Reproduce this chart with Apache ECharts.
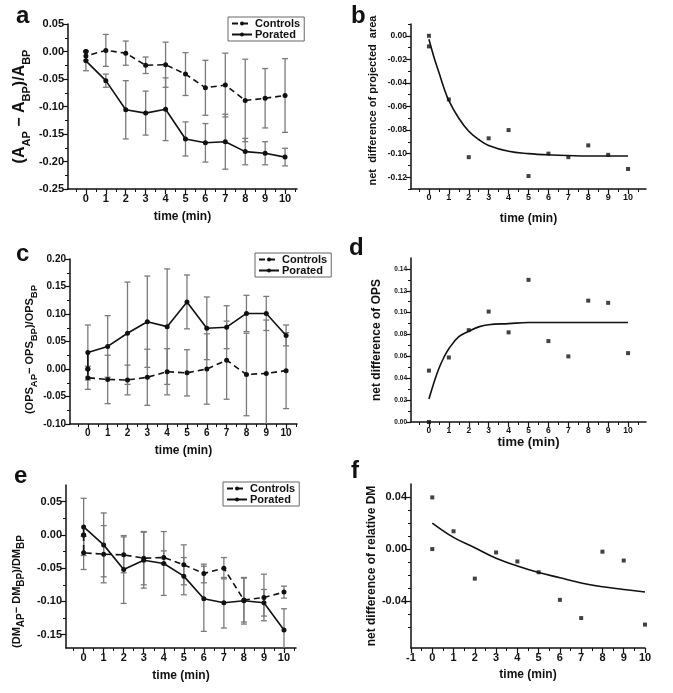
<!DOCTYPE html>
<html>
<head>
<meta charset="utf-8">
<script src="https://cdn.jsdelivr.net/npm/echarts@6/dist/echarts.min.js"></script>
<style>
  html, body { margin: 0; padding: 0; background: #fff; }
  #main { width: 673px; height: 693px; }
</style>
</head>
<body>
<div id="main"></div>
<script>
// time points: 0 appears twice (normalised start + first reading)
var times = [0, 0, 1, 2, 3, 4, 5, 6, 7, 8, 9, 10];

// panel a
var ctrlA    = [0, -0.008, 0.002, -0.003, -0.025, -0.024, -0.041, -0.066, -0.061, -0.089, -0.085, -0.080];
var ctrlAErr = [0, 0.008, 0.029, 0.022, 0.015, 0.041, 0.039, 0.050, 0.058, 0.075, 0.054, 0.067];
var porA     = [0, -0.017, -0.053, -0.106, -0.112, -0.105, -0.159, -0.166, -0.164, -0.182, -0.185, -0.192];
var porAErr  = [0, 0.018, 0.012, 0.053, 0.040, 0.057, 0.031, 0.035, 0.050, 0.024, 0.021, 0.016];

// panel b
var netArea = [0, -0.009, -0.054, -0.103, -0.087, -0.080, -0.119, -0.100, -0.103, -0.093, -0.101, -0.113];
var fitTimesB = [0, 0.25, 0.5, 0.75, 1, 1.5, 2, 2.5, 3, 4, 5, 6, 8, 10];
var fitB = [-0.003, -0.018, -0.031, -0.044, -0.055, -0.070, -0.081, -0.088, -0.093, -0.098, -0.100, -0.101, -0.102, -0.102];

// panel c
var ctrlC    = [0, -0.016, -0.019, -0.020, -0.015, -0.005, -0.007, 0.000, 0.016, -0.010, -0.008, -0.003];
var ctrlCErr = [0, 0.021, 0.044, 0.027, 0.051, 0.042, 0.042, 0.064, 0.071, 0.075, 0.097, 0.069];
var porC     = [0, 0.030, 0.041, 0.065, 0.086, 0.077, 0.122, 0.074, 0.076, 0.101, 0.101, 0.061];
var porCErr  = [0, 0.050, 0.056, 0.093, 0.083, 0.105, 0.049, 0.057, 0.039, 0.033, 0.031, 0.019];

// panel d
var netOps = [0, 0.047, 0.059, 0.084, 0.101, 0.082, 0.130, 0.074, 0.060, 0.111, 0.109, 0.063];
var fitTimesD = [0, 0.25, 0.5, 0.75, 1, 1.5, 2, 2.5, 3, 4, 5, 7, 10];
var fitD = [0.021, 0.036, 0.049, 0.059, 0.067, 0.078, 0.083, 0.087, 0.089, 0.090, 0.091, 0.091, 0.091];

// panel e
var ctrlE    = [0, -0.027, -0.029, -0.030, -0.035, -0.034, -0.045, -0.058, -0.050, -0.098, -0.094, -0.086];
var ctrlEErr = [0, 0.025, 0.043, 0.027, 0.040, 0.010, 0.030, 0.014, 0.016, 0.033, 0.035, 0.009];
var porE     = [0, 0.012, -0.015, -0.052, -0.038, -0.043, -0.062, -0.096, -0.102, -0.099, -0.102, -0.143];
var porEErr  = [0, 0.043, 0.048, 0.051, 0.042, 0.048, 0.028, 0.049, 0.038, 0.035, 0.020, 0.032];

// panel f
var netDm = [0, 0.0397, 0.0137, -0.0227, -0.0026, -0.0095, -0.0178, -0.039, -0.053, -0.002, -0.0088, -0.058];
var fitTimesF = [0, 1, 2, 3, 4, 5, 6, 7, 8, 9, 10];
var fitF = [0.020, 0.009, 0.001, -0.007, -0.013, -0.018, -0.022, -0.026, -0.029, -0.031, -0.033];

// tick labels
var timeTicks  = [0, 1, 2, 3, 4, 5, 6, 7, 8, 9, 10];
var timeTicksF = [-1, 0, 1, 2, 3, 4, 5, 6, 7, 8, 9, 10];
var yTicksA = [-0.25, -0.20, -0.15, -0.10, -0.05, 0, 0.05];
var yTicksB = [-0.12, -0.10, -0.08, -0.06, -0.04, -0.02, 0];
var yTicksC = [-0.10, -0.05, 0, 0.05, 0.10, 0.15, 0.20];
var yTicksD = [0, 0.02, 0.04, 0.06, 0.08, 0.10, 0.12, 0.14];
var yTicksE = [-0.15, -0.10, -0.05, 0, 0.05];
var yTicksF = [-0.04, 0, 0.04];
var yMinorF = [-0.06, -0.05, -0.03, -0.02, -0.01, 0.01, 0.02, 0.03];

var FONT = '"Liberation Sans", Arial, sans-serif';
var INK = '#111';

function halves(arr, step) {
  var out = [];
  for (var i = 0; i < arr.length; i++) {
    out.push(arr[i] + step / 2);
    if (i === 0) out.push(arr[i] - step / 2);
  }
  return out;
}

var xAxes = [], yAxes = [];

function addAxes(gi, dim, min, max, major, minor, fontSize, fmt, name, nameCfg) {
  var main = {
    type: 'value', gridIndex: gi, min: min, max: max,
    position: dim === 'x' ? 'bottom' : 'left',
    axisLine: { show: true, onZero: false, lineStyle: { color: INK, width: 1.5 } },
    axisTick: { show: true, length: 5, customValues: major, lineStyle: { color: INK, width: 1.2 } },
    axisLabel: { customValues: major, formatter: fmt, fontSize: fontSize, fontWeight: 'bold',
                 color: INK, fontFamily: FONT, margin: 4 },
    splitLine: { show: false }
  };
  if (name) {
    main.name = name;
    main.nameLocation = 'middle';
    main.nameGap = nameCfg.gap;
    main.nameTextStyle = nameCfg.style;
  }
  var minorAx = {
    type: 'value', gridIndex: gi, min: min, max: max,
    position: dim === 'x' ? 'bottom' : 'left',
    axisLine: { show: false, onZero: false },
    axisTick: { show: true, length: 3, customValues: minor, lineStyle: { color: INK, width: 1 } },
    axisLabel: { show: false },
    splitLine: { show: false }
  };
  var list = dim === 'x' ? xAxes : yAxes;
  list.push(main, minorAx);
}

function fmt2(v) { return v.toFixed(2); }
function fmtInt(v) { return String(Math.round(v)); }

var timeName = { gap: 22, style: { fontSize: 12, fontWeight: 'bold', color: INK, fontFamily: FONT } };
function yName(gap, size, extra) {
  var s = { fontSize: size, fontWeight: 'bold', color: INK, fontFamily: FONT };
  if (extra) for (var k in extra) s[k] = extra[k];
  return { gap: gap, style: s };
}
function subRich(big, small) {
  return {
    b: { fontSize: big, fontWeight: 'bold', color: INK, fontFamily: FONT, lineHeight: big + 8, verticalAlign: 'middle' },
    s: { fontSize: small, fontWeight: 'bold', color: INK, fontFamily: FONT, lineHeight: small + 1, verticalAlign: 'bottom' }
  };
}

var grids = [
  { left: 68,  top: 24,  width: 229, height: 165 },
  { left: 411, top: 24,  width: 235, height: 165 },
  { left: 70,  top: 259, width: 227, height: 165 },
  { left: 411, top: 258, width: 235, height: 164 },
  { left: 66,  top: 485, width: 230, height: 163 },
  { left: 411, top: 484, width: 234, height: 164 }
];

// a
addAxes(0, 'x', -0.9, 10.6, timeTicks, halves(timeTicks, 1), 11, fmtInt, 'time (min)', timeName);
addAxes(0, 'y', -0.25, 0.05, yTicksA, halves(yTicksA, 0.05), 11, fmt2,
  '{b|(A}{s|AP}{b| − A}{s|BP}{b|)/A}{s|BP}', yName(36, 15, { rich: subRich(16, 11) }));
// b
addAxes(1, 'x', -0.9, 10.9, timeTicks, halves(timeTicks, 1), 9, fmtInt, 'time (min)',
  { gap: 24, style: timeName.style });
addAxes(1, 'y', -0.13, 0.01, yTicksB, halves(yTicksB, 0.02), 8.5, fmt2,
  'net  difference of projected  area', yName(33, 11, { padding: [0, 0, 0, 12] }));
// c
addAxes(2, 'x', -0.9, 10.55, timeTicks, halves(timeTicks, 1), 10, fmtInt, 'time (min)',
  { gap: 21, style: timeName.style });
addAxes(2, 'y', -0.10, 0.20, yTicksC, halves(yTicksC, 0.05), 10, fmt2,
  '{b|(OPS}{s|AP}{b|− OPS}{s|BP}{b|)/OPS}{s|BP}',
  yName(26, 11, { rich: subRich(11, 9.5), padding: [0, 16, 0, 0] }));
// d
addAxes(3, 'x', -0.9, 10.9, timeTicks, halves(timeTicks, 1), 8.5, fmtInt, 'time (min)',
  { gap: 12, style: { fontSize: 13, fontWeight: 'bold', color: INK, fontFamily: FONT } });
addAxes(3, 'y', 0, 0.15, yTicksD, halves(yTicksD, 0.02), 6.5, fmt2,
  'net difference of OPS', yName(28, 12));
// e
addAxes(4, 'x', -0.88, 10.6, timeTicks, halves(timeTicks, 1), 11, fmtInt, 'time (min)',
  { gap: 22, style: timeName.style });
addAxes(4, 'y', -0.17, 0.075, yTicksE, halves(yTicksE, 0.05), 11, fmt2,
  '{b|(DM}{s|AP}{b|− DM}{s|BP}{b|)/DM}{s|BP}',
  yName(40, 11, { rich: subRich(11, 10), padding: [0, 50, 0, 0] }));
// f
addAxes(5, 'x', -1, 10, timeTicksF, halves(timeTicksF, 1), 11, fmtInt, 'time (min)',
  { gap: 21, style: timeName.style });
addAxes(5, 'y', -0.076, 0.05, yTicksF, yMinorF, 11, fmt2,
  'net difference of relative DM', yName(31, 12));

function pairs(xs, ys) {
  return xs.map(function (x, i) { return [x, ys[i]]; });
}

function lineSeries(name, gi, ys, dashed) {
  return {
    type: 'line', name: name, xAxisIndex: 2 * gi, yAxisIndex: 2 * gi,
    data: pairs(times, ys), symbol: 'circle', symbolSize: 5, z: 4,
    lineStyle: { color: INK, width: 1.6, type: dashed ? [6, 4] : 'solid' },
    itemStyle: { color: INK }
  };
}

function errSeries(gi, ys, errs) {
  var data = [];
  for (var i = 0; i < times.length; i++) {
    if (errs[i] > 0) data.push([times[i], ys[i] - errs[i], ys[i] + errs[i]]);
  }
  return {
    type: 'custom', xAxisIndex: 2 * gi, yAxisIndex: 2 * gi, z: 2, clip: true,
    data: data,
    renderItem: function (params, api) {
      var lo = api.coord([api.value(0), api.value(1)]);
      var hi = api.coord([api.value(0), api.value(2)]);
      var st = { stroke: '#7a7a7a', lineWidth: 1.3 };
      var w = 3;
      return {
        type: 'group',
        children: [
          { type: 'line', shape: { x1: lo[0], y1: lo[1], x2: hi[0], y2: hi[1] }, style: st },
          { type: 'line', shape: { x1: lo[0] - w, y1: lo[1], x2: lo[0] + w, y2: lo[1] }, style: st },
          { type: 'line', shape: { x1: hi[0] - w, y1: hi[1], x2: hi[0] + w, y2: hi[1] }, style: st }
        ]
      };
    }
  };
}

function scatterSeries(gi, ys) {
  return {
    type: 'scatter', xAxisIndex: 2 * gi, yAxisIndex: 2 * gi, z: 4,
    data: pairs(times, ys), symbol: 'rect', symbolSize: 4, itemStyle: { color: INK }
  };
}

function fitSeries(gi, xs, ys) {
  return {
    type: 'line', xAxisIndex: 2 * gi, yAxisIndex: 2 * gi, z: 3,
    data: pairs(xs, ys), smooth: 0.4, showSymbol: false, symbol: 'none',
    lineStyle: { color: INK, width: 1.6 }
  };
}

var series = [
  errSeries(0, ctrlA, ctrlAErr), errSeries(0, porA, porAErr),
  lineSeries('Controls', 0, ctrlA, true), lineSeries('Porated', 0, porA, false),
  scatterSeries(1, netArea), fitSeries(1, fitTimesB, fitB),
  errSeries(2, ctrlC, ctrlCErr), errSeries(2, porC, porCErr),
  lineSeries('Controls', 2, ctrlC, true), lineSeries('Porated', 2, porC, false),
  scatterSeries(3, netOps), fitSeries(3, fitTimesD, fitD),
  errSeries(4, ctrlE, ctrlEErr), errSeries(4, porE, porEErr),
  lineSeries('Controls', 4, ctrlE, true), lineSeries('Porated', 4, porE, false),
  scatterSeries(5, netDm), fitSeries(5, fitTimesF, fitF)
];

function legendAt(left, top) {
  return {
    orient: 'vertical', left: left, top: top, data: ['Controls', 'Porated'],
    itemWidth: 20, itemHeight: 5, itemGap: 0, padding: [1, 4, 1, 3],
    borderColor: '#666', borderWidth: 1, selectedMode: false,
    textStyle: { fontSize: 11, fontWeight: 'bold', color: INK, fontFamily: FONT,
                 lineHeight: 11, padding: [0, 0, 0, -2] }
  };
}

function letter(ch, left, top) {
  return { type: 'text', left: left, top: top,
           style: { text: ch, font: 'bold 24px "Liberation Sans", Arial, sans-serif', fill: INK } };
}

var chart = echarts.init(document.getElementById('main'));
chart.setOption({
  animation: false,
  backgroundColor: '#fff',
  grid: grids,
  xAxis: xAxes,
  yAxis: yAxes,
  legend: [legendAt(228, 17), legendAt(255, 253), legendAt(223, 482)],
  graphic: [
    letter('a', 16, 4), letter('b', 351, 4), letter('c', 16, 242),
    letter('d', 349, 236), letter('e', 14, 464), letter('f', 351, 459)
  ],
  series: series
});
</script>
</body>
</html>
